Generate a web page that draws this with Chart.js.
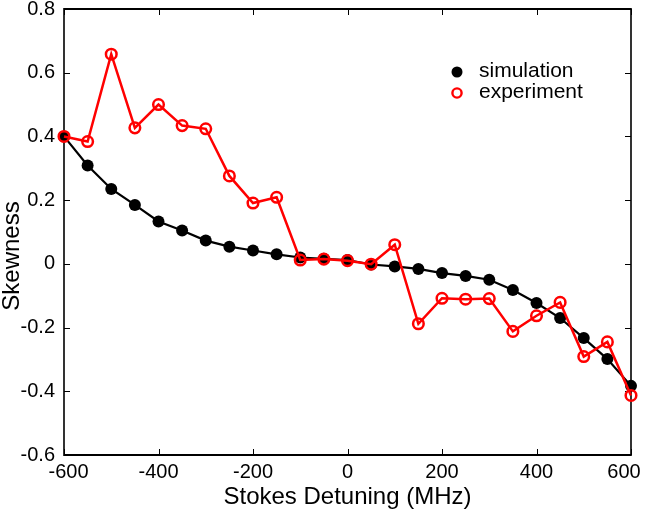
<!DOCTYPE html>
<html>
<head>
<meta charset="utf-8">
<script src="https://cdn.jsdelivr.net/npm/chart.js@4"></script>
<style>
  html, body { margin: 0; padding: 0; background: #fff; }
  #wrap { width: 646px; height: 512px; position: relative; }
</style>
</head>
<body>
<div id="wrap"><canvas id="c" width="646" height="512"></canvas></div>
<script>
// ---- data ----
const detuning = [-600, -550, -500, -450, -400, -350, -300, -250, -200, -150, -100, -50, 0,
                  50, 100, 150, 200, 250, 300, 350, 400, 450, 500, 550, 600];
const simulation = [0.400, 0.309, 0.235, 0.185, 0.133, 0.105, 0.073, 0.054, 0.042, 0.030, 0.020, 0.016, 0.012,
                    -0.002, -0.008, -0.016, -0.029, -0.038, -0.050, -0.082, -0.123, -0.170, -0.233, -0.299, -0.383];
const experiment = [0.400, 0.384, 0.658, 0.427, 0.500, 0.434, 0.424, 0.276, 0.191, 0.209, 0.012, 0.015, 0.010,
                    -0.001, 0.060, -0.188, -0.108, -0.111, -0.109, -0.212, -0.163, -0.121, -0.291, -0.245, -0.413];
const xTicks = [-600, -400, -200, 0, 200, 400, 600];
const yTicks = [-0.6, -0.4, -0.2, 0, 0.2, 0.4, 0.6, 0.8];
const seriesNames = ['simulation', 'experiment'];
const xTitle = 'Stokes Detuning (MHz)';
const yTitle = 'Skewness';

const FONT = "'Liberation Sans', Arial, Helvetica, sans-serif";

function pts(xs, ys) { return xs.map((x, i) => ({ x: x, y: ys[i] })); }

const framePlugin = {
  id: 'frame',
  beforeDraw(chart) {
    // nudge the two end labels of the x axis inward, as in the reference
    const xs = chart.scales.x;
    const items = xs.getLabelItems(chart.chartArea);
    if (items && items.length) {
      items[0].options.translation[0] += 4.5;
      items[items.length - 1].options.translation[0] -= 7;
    }
  },
  beforeDatasetsDraw(chart) {
    const ctx = chart.ctx;
    const a = chart.chartArea;
    const xs = chart.scales.x, ys = chart.scales.y;
    ctx.save();
    ctx.strokeStyle = '#000';
    // inward ticks
    ctx.lineWidth = 1;
    const L = 6;
    ctx.beginPath();
    xTicks.forEach(v => {
      const px = Math.round(xs.getPixelForValue(v)) + 0.5;
      ctx.moveTo(px, a.bottom); ctx.lineTo(px, a.bottom - L);
      ctx.moveTo(px, a.top); ctx.lineTo(px, a.top + L);
    });
    yTicks.forEach(v => {
      const py = Math.round(ys.getPixelForValue(v)) + 0.5;
      ctx.moveTo(a.left, py); ctx.lineTo(a.left + L, py);
      ctx.moveTo(a.right, py); ctx.lineTo(a.right - L, py);
    });
    ctx.stroke();
    // frame
    ctx.lineWidth = 2;
    ctx.beginPath();
    ctx.moveTo(a.left, a.top); ctx.lineTo(a.right, a.top);
    ctx.moveTo(a.left, a.bottom); ctx.lineTo(a.right, a.bottom);
    ctx.stroke();
    ctx.lineWidth = 1.6;
    ctx.beginPath();
    ctx.moveTo(a.left, a.top - 1); ctx.lineTo(a.left, a.bottom + 1);
    ctx.moveTo(a.right, a.top - 1); ctx.lineTo(a.right, a.bottom + 1);
    ctx.stroke();
    ctx.restore();
  },
  afterDraw(chart) {
    const ctx = chart.ctx;
    ctx.save();
    // legend
    ctx.fillStyle = '#000';
    ctx.beginPath(); ctx.arc(457, 72, 5.5, 0, Math.PI * 2); ctx.fill();
    ctx.strokeStyle = '#ff0000'; ctx.lineWidth = 2.4;
    ctx.beginPath(); ctx.arc(457, 93, 4.6, 0, Math.PI * 2); ctx.stroke();
    ctx.font = '21px ' + FONT;
    ctx.textBaseline = 'middle';
    ctx.textAlign = 'left';
    ctx.fillStyle = '#000';
    ctx.fillText(seriesNames[0], 479, 71);
    ctx.fillText(seriesNames[1], 479, 92);

    // y title
    ctx.translate(12, 256);
    ctx.rotate(-Math.PI / 2);
    ctx.font = '24px ' + FONT;
    ctx.textAlign = 'center';
    ctx.textBaseline = 'middle';
    ctx.fillText(yTitle, 0, 0);
    ctx.restore();
  }
};

new Chart(document.getElementById('c'), {
  type: 'line',
  data: {
    datasets: [
      {
        label: seriesNames[1],
        data: pts(detuning, experiment),
        borderColor: '#ff0000',
        borderWidth: 2.5,
        pointRadius: 5.3,
        pointBorderWidth: 2.5,
        pointBorderColor: '#ff0000',
        pointBackgroundColor: 'rgba(0,0,0,0)',
        tension: 0,
        clip: false,
        order: 0
      },
      {
        label: seriesNames[0],
        data: pts(detuning, simulation),
        borderColor: '#000000',
        borderWidth: 2.2,
        pointRadius: 6,
        pointBorderWidth: 0,
        pointBackgroundColor: '#000000',
        tension: 0,
        clip: false,
        order: 1
      }
    ]
  },
  options: {
    responsive: false,
    animation: false,
    events: [],
    layout: { padding: { left: 0, top: 9, right: 15, bottom: 0 } },
    plugins: { legend: { display: false }, tooltip: { enabled: false } },
    scales: {
      x: {
        type: 'linear',
        min: -600, max: 600,
        grid: { display: false, drawTicks: false },
        border: { display: false },
        afterBuildTicks(s) { s.ticks = xTicks.map(v => ({ value: v })); },
        ticks: {
          font: { family: FONT, size: 20 },
          color: '#000',
          padding: 5,
          maxRotation: 0,
          callback: v => String(v)
        },
        title: {
          display: true, text: xTitle, color: '#000',
          font: { family: FONT, size: 24 },
          padding: { top: 0, bottom: 0 }
        },
        afterFit(s) { s.height = 57; s.paddingLeft = 0; s.paddingRight = 0; }
      },
      y: {
        type: 'linear',
        min: -0.6, max: 0.8,
        grid: { display: false, drawTicks: false },
        border: { display: false },
        afterBuildTicks(s) { s.ticks = yTicks.map(v => ({ value: v })); },
        ticks: {
          font: { family: FONT, size: 20 },
          color: '#000',
          padding: 9,
          callback: v => (Math.abs(v) < 1e-9 ? '0' : (Math.round(v * 10) / 10).toFixed(1))
        },
        afterFit(s) { s.width = 64; s.paddingTop = 0; s.paddingBottom = 0; }
      }
    }
  },
  plugins: [framePlugin]
});
</script>
</body>
</html>
